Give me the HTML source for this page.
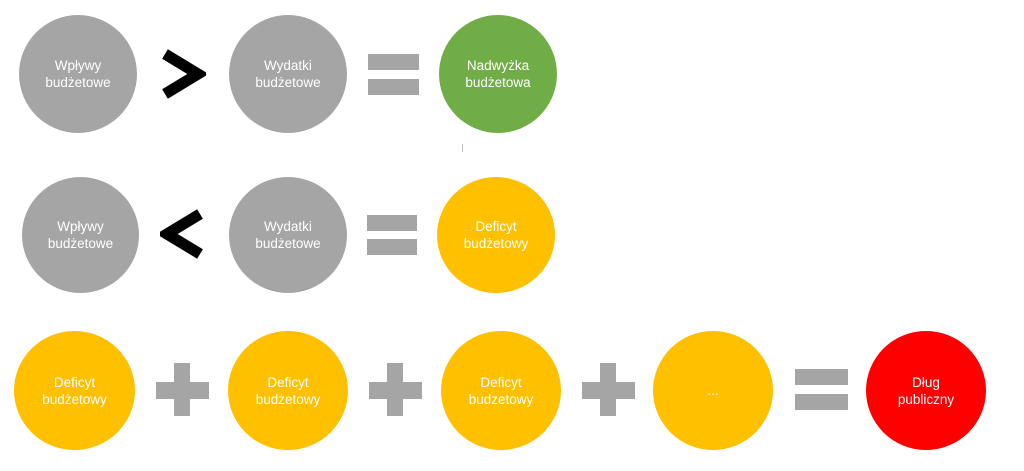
<!DOCTYPE html>
<html><head><meta charset="utf-8"><style>
body{margin:0;width:1024px;height:471px;background:#fff;position:relative;overflow:hidden;font-family:"Liberation Sans",sans-serif}
.c{position:absolute;border-radius:50%;display:flex;align-items:center;justify-content:center;text-align:center;color:#fff;font-size:13.5px;line-height:17px}
.g{background:#a5a5a5}.gr{background:#70ad47}.y{background:#ffc000}.r{background:#ff0000}
.b{position:absolute;background:#a5a5a5}
</style></head><body>
<div class="c g" style="left:19px;top:15px;width:118px;height:118px">Wpływy<br>budżetowe</div>
<div class="c g" style="left:229px;top:15px;width:118px;height:118px">Wydatki<br>budżetowe</div>
<div class="c gr" style="left:439px;top:15px;width:118px;height:118px">Nadwyżka<br>budżetowa</div>
<svg style="position:absolute;left:160px;top:48px" width="46" height="52"><polyline points="5,6 38,26 5,46" fill="none" stroke="#000" stroke-width="11" stroke-linejoin="miter"/></svg>
<div class="b" style="left:368px;top:54px;width:51px;height:16px"></div>
<div class="b" style="left:368px;top:79px;width:51px;height:16px"></div>
<div style="position:absolute;left:462px;top:144px;width:1px;height:8px;background:#bbb"></div>

<div class="c g" style="left:22px;top:177px;width:117px;height:116px">Wpływy<br>budżetowe</div>
<div class="c g" style="left:229px;top:177px;width:118px;height:116px">Wydatki<br>budżetowe</div>
<div class="c y" style="left:437px;top:177px;width:118px;height:116px">Deficyt<br>budżetowy</div>
<svg style="position:absolute;left:160px;top:208px" width="46" height="52"><polyline points="40,6 7,26 40,46" fill="none" stroke="#000" stroke-width="11"/></svg>
<div class="b" style="left:367px;top:215px;width:50px;height:16px"></div>
<div class="b" style="left:367px;top:239px;width:50px;height:16px"></div>

<div class="c y" style="left:14px;top:331px;width:121px;height:119px">Deficyt<br>budżetowy</div>
<div class="c y" style="left:228px;top:331px;width:120px;height:119px">Deficyt<br>budżetowy</div>
<div class="c y" style="left:441px;top:331px;width:120px;height:119px">Deficyt<br>budzetowy</div>
<div class="c y" style="left:653px;top:331px;width:120px;height:119px">...</div>
<div class="c r" style="left:866px;top:331px;width:120px;height:119px">Dług<br>publiczny</div>
<div class="b" style="left:156px;top:382px;width:53px;height:17px"></div><div class="b" style="left:174px;top:363px;width:16px;height:53px"></div>
<div class="b" style="left:369px;top:382px;width:53px;height:17px"></div><div class="b" style="left:387px;top:363px;width:16px;height:53px"></div>
<div class="b" style="left:582px;top:382px;width:53px;height:17px"></div><div class="b" style="left:600px;top:363px;width:16px;height:53px"></div>
<div class="b" style="left:795px;top:369px;width:53px;height:16px"></div>
<div class="b" style="left:795px;top:394px;width:53px;height:16px"></div>
</body></html>
